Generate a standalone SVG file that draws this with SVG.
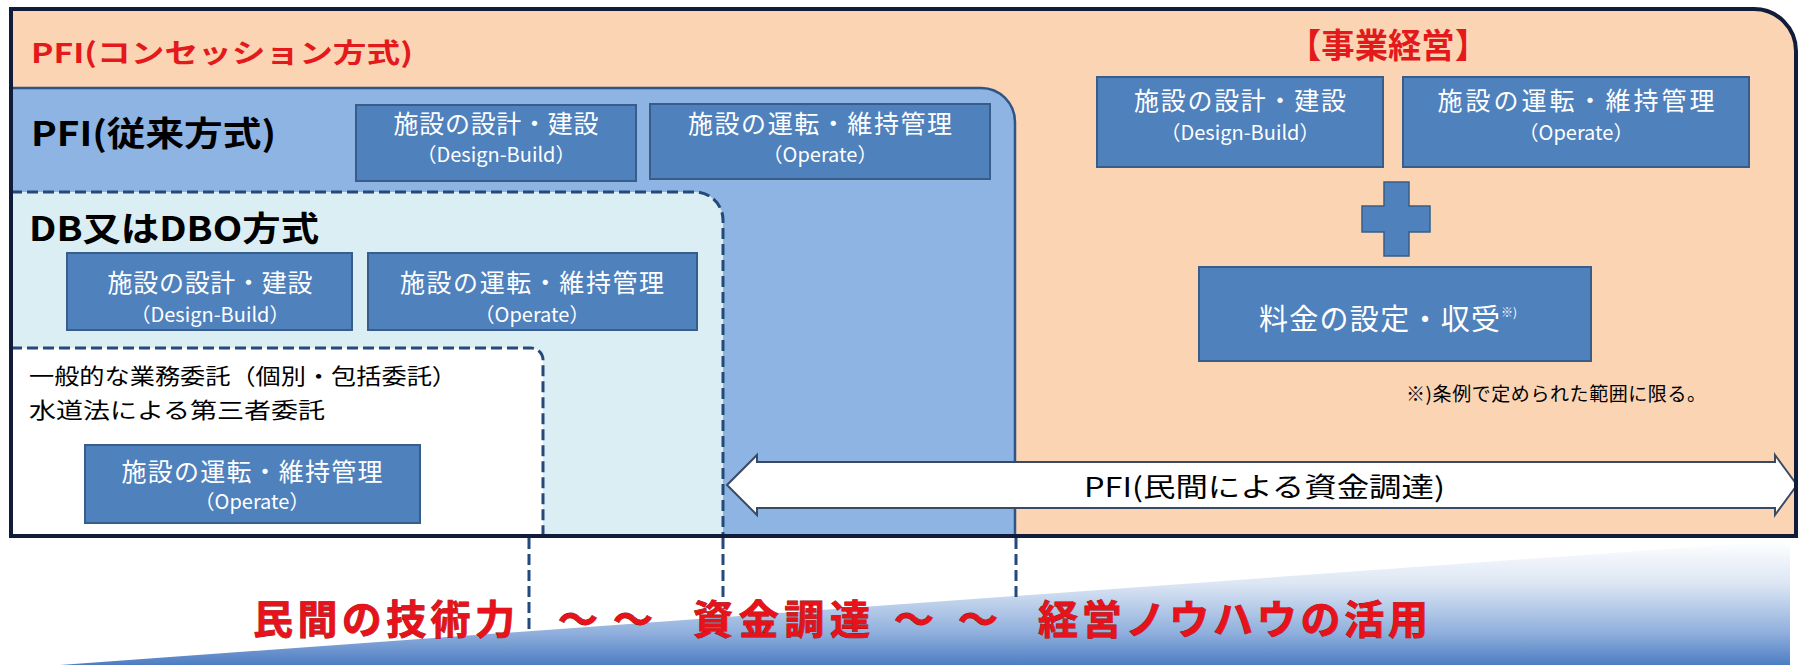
<svg xmlns="http://www.w3.org/2000/svg" width="1798" height="665" viewBox="0 0 1798 665">
<style>
.jp{font-family:"Noto Sans CJK JP","Noto Sans",sans-serif}
.box{fill:#4F81BD;stroke:#385D8A;stroke-width:2}
.bt1{font-family:"Noto Sans CJK JP",sans-serif;font-size:25px;fill:#FFFFFF;text-anchor:middle}
.bt2{font-family:"Noto Sans CJK JP",sans-serif;font-size:20px;fill:#FFFFFF;text-anchor:middle}
.head{font-family:"Noto Sans CJK JP",sans-serif;font-weight:bold;fill:#000000}
.red{font-family:"Noto Sans CJK JP",sans-serif;font-weight:bold;fill:#E3191B}
.big{font-family:"Noto Sans CJK JP",sans-serif;font-weight:bold;font-size:40px;fill:#E8121A;stroke:#8A1010;stroke-width:0.8;paint-order:stroke}
.dash{fill:none;stroke:#24497A;stroke-width:3;stroke-dasharray:11 5}
.plain{font-family:"Noto Sans CJK JP",sans-serif;fill:#000000}
</style>
<defs>
<linearGradient id="wedge" gradientUnits="userSpaceOnUse" x1="0" y1="540" x2="0" y2="665">
<stop offset="0" stop-color="#FFFFFF"/>
<stop offset="0.35" stop-color="#DCE6F4"/>
<stop offset="0.75" stop-color="#8EAEDC"/>
<stop offset="1" stop-color="#4D7DC2"/>
</linearGradient>
</defs>
<rect width="1798" height="665" fill="#FFFFFF"/>

<g id="wedge-bg">
<polygon points="60,665 1790,540 1790,665" fill="url(#wedge)"/>
</g>

<g id="concession">
<path d="M11,9 H1754 A42,42 0 0 1 1796,51 V536 H11 Z" fill="#FBD4B4"/>
<text class="red" x="31" y="63" font-size="27" textLength="382" lengthAdjust="spacingAndGlyphs">PFI(コンセッション方式)</text>
<text class="red" x="1288" y="58" font-size="34" textLength="200" lengthAdjust="spacingAndGlyphs">【事業経営】</text>
</g>

<g id="pfi-traditional">
<path d="M11,88 H981 A34,34 0 0 1 1015,122 V536 H11 Z" fill="#8DB4E2" stroke="#2F5486" stroke-width="2.5"/>
<text class="head" x="31" y="146" font-size="34" textLength="245" lengthAdjust="spacingAndGlyphs">PFI(従来方式)</text>
</g>

<g id="db-dbo">
<path d="M11,192 H695 A28,28 0 0 1 723,220 V536 H11 Z" class="dash" style="fill:#DBEEF3"/>
<text class="head" x="29" y="241" font-size="34" textLength="290" lengthAdjust="spacingAndGlyphs">DB又はDBO方式</text>
</g>

<g id="general-outsourcing">
<path d="M11,348 H531 A12,12 0 0 1 543,360 V536 H11 Z" class="dash" style="fill:#FFFFFF"/>
<text class="plain" x="29" y="384" font-size="22" textLength="428" lengthAdjust="spacingAndGlyphs">一般的な業務委託（個別・包括委託）</text>
<text class="plain" x="29" y="418" font-size="22" textLength="296" lengthAdjust="spacingAndGlyphs">水道法による第三者委託</text>
</g>

<g id="pfi-design-build">
<rect class="box" x="356" y="105" width="280" height="76"/>
<text class="bt1" x="496" y="133" textLength="205">施設の設計・建設</text>
<text class="bt2" x="496" y="162">（Design-Build）</text>
</g>
<g id="pfi-operate">
<rect class="box" x="650" y="104" width="340" height="75"/>
<text class="bt1" x="820" y="133" textLength="264">施設の運転・維持管理</text>
<text class="bt2" x="820" y="162">（Operate）</text>
</g>

<g id="db-design-build">
<rect class="box" x="67" y="253" width="285" height="77"/>
<text class="bt1" x="210" y="292" textLength="205">施設の設計・建設</text>
<text class="bt2" x="210" y="322">（Design-Build）</text>
</g>
<g id="db-operate">
<rect class="box" x="368" y="253" width="329" height="77"/>
<text class="bt1" x="532" y="292" textLength="264">施設の運転・維持管理</text>
<text class="bt2" x="532" y="322">（Operate）</text>
</g>

<g id="general-operate">
<rect class="box" x="85" y="445" width="335" height="78"/>
<text class="bt1" x="252" y="481" textLength="261">施設の運転・維持管理</text>
<text class="bt2" x="252" y="509">（Operate）</text>
</g>

<g id="biz-design-build">
<rect class="box" x="1097" y="77" width="286" height="90"/>
<text class="bt1" x="1240" y="110" textLength="212">施設の設計・建設</text>
<text class="bt2" x="1240" y="140">（Design-Build）</text>
</g>
<g id="biz-operate">
<rect class="box" x="1403" y="77" width="346" height="90"/>
<text class="bt1" x="1576" y="110" textLength="277">施設の運転・維持管理</text>
<text class="bt2" x="1576" y="140">（Operate）</text>
</g>

<g id="plus">
<path d="M1384,182 H1409 V206 H1430 V232 H1409 V256 H1384 V232 H1362 V206 H1384 Z" fill="#4F81BD" stroke="#385D8A" stroke-width="1.5"/>
</g>

<g id="fee">
<rect class="box" x="1199" y="267" width="392" height="94"/>
<text class="jp" x="1259" y="330" font-size="29" fill="#FFFFFF" textLength="241">料金の設定・収受</text>
<text class="jp" x="1501" y="317" font-size="12" fill="#FFFFFF">※)</text>
<text class="plain" x="1406" y="401" font-size="19" textLength="300">※)条例で定められた範囲に限る。</text>
</g>

<g id="connectors">
<polygon points="727,485 757,455 757,462 1775,462 1775,455 1797,485 1775,515 1775,508 757,508 757,515" fill="#FFFFFF" stroke="#3B4A63" stroke-width="2"/>
<line class="dash" x1="529" y1="538" x2="529" y2="632"/>
<line class="dash" x1="723" y1="538" x2="723" y2="598"/>
<line class="dash" x1="1016" y1="538" x2="1016" y2="600"/>
</g>
<text class="plain" x="1084" y="497" font-size="27" textLength="361" lengthAdjust="spacingAndGlyphs">PFI(民間による資金調達)</text>

<g id="frame">
<path d="M11,9 H1754 A42,42 0 0 1 1796,51 V536 H11 Z" fill="none" stroke="#101C3A" stroke-width="4"/>
</g>

<g id="slogan">
<text class="big" x="253" y="634" textLength="262">民間の技術力</text>
<text class="big" x="558" y="634" textLength="95">～ ～</text>
<text class="big" x="693" y="634" textLength="177">資金調達</text>
<text class="big" x="894" y="634" textLength="104">～ ～</text>
<text class="big" x="1038" y="634" textLength="390">経営ノウハウの活用</text>
</g>
</svg>
